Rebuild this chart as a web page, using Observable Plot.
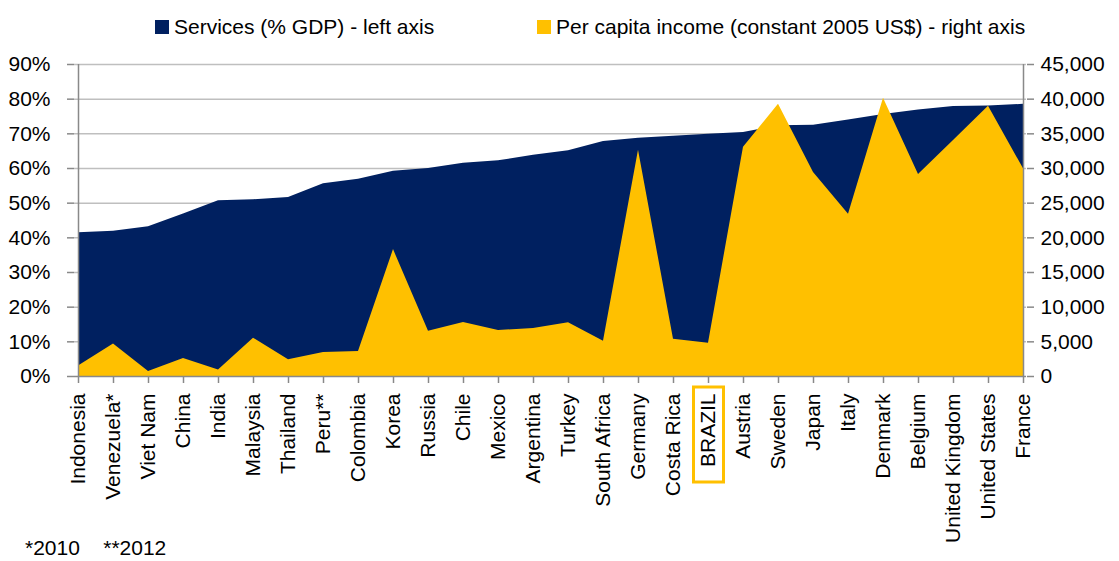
<!DOCTYPE html>
<html>
<head>
<meta charset="utf-8">
<script src="https://cdn.jsdelivr.net/npm/d3@7"></script>
<script src="https://cdn.jsdelivr.net/npm/@observablehq/plot@0.6"></script>
<style>
  html, body { margin: 0; padding: 0; background: #fff; }
  #wrap { position: relative; width: 1119px; height: 561px; overflow: hidden; font-family: "Liberation Sans", Arial, sans-serif; font-size: 21px; color: #000; }
  #legend { position: relative; height: 45px; }
  .item { position: absolute; top: 14.5px; height: 24px; display: flex; align-items: center; white-space: nowrap; }
  .sw { width: 14px; height: 14px; margin-right: 5px; }
  #foot { position: absolute; left: 25px; top: 538px; white-space: pre; line-height: 20px; }
</style>
</head>
<body>
<div id="wrap">
  <div id="legend"></div>
  <div id="chart"></div>
  <div id="foot"></div>
</div>
<script>
const countries = ["Indonesia","Venezuela*","Viet Nam","China","India","Malaysia","Thailand","Peru**","Colombia","Korea","Russia","Chile","Mexico","Argentina","Turkey","South Africa","Germany","Costa Rica","BRAZIL","Austria","Sweden","Japan","Italy","Denmark","Belgium","United Kingdom","United States","France"];
const services = [41.5,41.9,43.2,46.9,50.7,51.0,51.6,55.6,56.9,59.2,60.0,61.5,62.2,63.8,65.1,67.8,68.7,69.3,69.9,70.4,72.3,72.5,74.0,75.6,76.9,77.9,78.0,78.5];
const income = [1500,4700,720,2600,920,5530,2400,3460,3600,18300,6530,7790,6630,6920,7740,5100,32640,5380,4810,33070,39270,29420,23400,40140,29130,34040,38990,29950];
const leftTicks = [0,0.1,0.2,0.3,0.4,0.5,0.6,0.7,0.8,0.9];
const rightTicks = [0,5000,10000,15000,20000,25000,30000,35000,40000,45000];
const incomeMax = 45000;
const leftMax = 0.9;
const highlight = ["BRAZIL"];
const seriesNames = ["Services (% GDP) - left axis", "Per capita income (constant 2005 US$) - right axis"];
const seriesColors = ["#002060", "#FFC000"];
const footnote = "*2010    **2012";

const data = countries.map((c, i) => ({country: c, services: services[i] / 100, income: income[i]}));
const toLeft = v => v / incomeMax * leftMax;

// legend
const legend = document.getElementById("legend");
const legendLeft = [155, 537];
seriesNames.forEach((name, i) => {
  const it = document.createElement("div");
  it.className = "item";
  it.style.left = legendLeft[i] + "px";
  it.innerHTML = `<span class="sw" style="background:${seriesColors[i]}"></span><span>${name}</span>`;
  legend.appendChild(it);
});
document.getElementById("foot").textContent = footnote;

const boxSymbol = { draw(ctx) { ctx.rect(-15, -47.5, 30, 95); } };

const chart = Plot.plot({
  width: 1119,
  height: 516,
  marginTop: 19,
  marginBottom: 185,
  marginLeft: 74,
  marginRight: 93,
  style: { fontSize: "21px", fontFamily: "'Liberation Sans', Arial, sans-serif", background: "transparent", overflow: "visible", color: "#000" },
  x: { type: "point", domain: countries, padding: 0 },
  y: { domain: [0, leftMax] },
  marks: [
    Plot.gridY(leftTicks.slice(1), { stroke: "#BFBFBF", strokeOpacity: 1, strokeWidth: 1.5 }),
    Plot.areaY(data, { x: "country", y: "services", fill: seriesColors[0] }),
    Plot.areaY(data, { x: "country", y: d => toLeft(d.income), fill: seriesColors[1] }),
    Plot.ruleX([countries[0], countries[countries.length - 1]], { stroke: "#898989", strokeWidth: 1.5 }),
    Plot.ruleY([0], { stroke: "#898989", strokeWidth: 1.5 }),
    Plot.axisY(leftTicks, { anchor: "left", tickFormat: d3.format(".0%"), tickSize: 7, tickPadding: 17, stroke: "#898989", strokeWidth: 1.5, fill: "#000", label: null }),
    Plot.axisY(rightTicks.map(toLeft), { anchor: "right", tickFormat: d => d3.format(",")(Math.round(d / leftMax * incomeMax)), tickSize: 7, tickPadding: 7, stroke: "#898989", strokeWidth: 1.5, fill: "#000", label: null }),
    Plot.axisX({ anchor: "bottom", tickRotate: -90, tickSize: 7, tickPadding: 10, stroke: "#898989", strokeWidth: 1.5, fill: "#000", label: null }),
    Plot.dot(highlight, { x: d => d, frameAnchor: "bottom", dy: 58, symbol: boxSymbol, fill: "none", stroke: seriesColors[1], strokeWidth: 3 })
  ]
});
document.getElementById("chart").appendChild(chart);
</script>
</body>
</html>
